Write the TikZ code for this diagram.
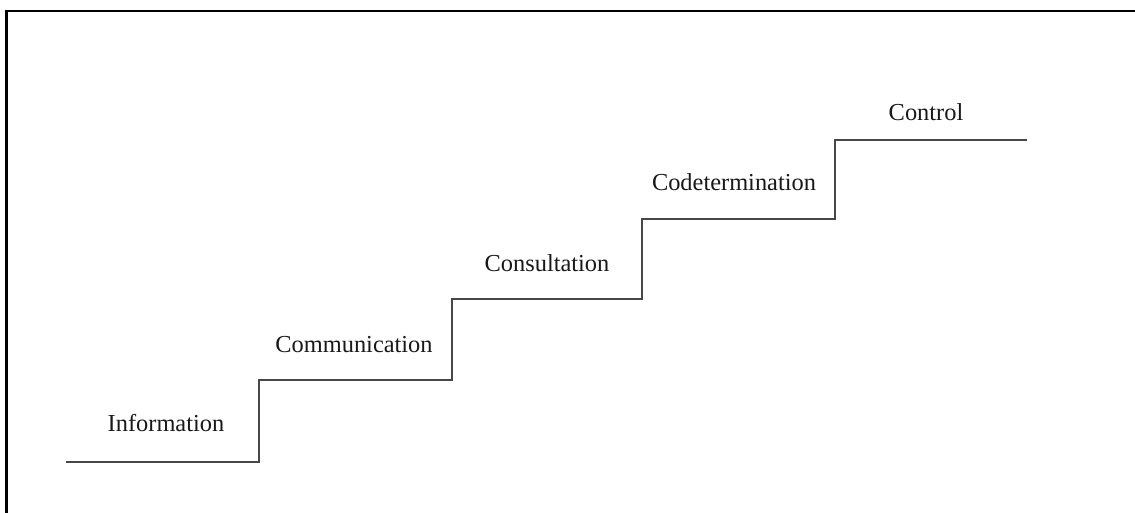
\documentclass[tikz,border=0pt]{standalone}
\usepackage{fontspec}
\setmainfont{Liberation Serif}
\usepackage{tikz}
\tikzset{frame/.style={draw=black, line width=2.5pt}}
\tikzset{stair/.style={draw=black!72, line width=2pt, line join=miter}}
\tikzset{steplabel/.style={anchor=base, inner sep=0pt, text=black!90,
   font=\fontsize{24.4}{29}\selectfont}}

\begin{document}
\begin{tikzpicture}[x=1pt, y=-1pt]

    \clip (0,0) rectangle (1135,512);
    \fill[white] (0,0) rectangle (1135,512);
    \draw[frame] (6.5,11) rectangle (1160,540);

    % corners of the stairs
    \coordinate (s0) at (66,462);
    \coordinate (s1) at (259,462);
    \coordinate (s2) at (259,380);
    \coordinate (s3) at (452,380);
    \coordinate (s4) at (452,299);
    \coordinate (s5) at (642,299);
    \coordinate (s6) at (642,219);
    \coordinate (s7) at (835,219);
    \coordinate (s8) at (835,140);
    \coordinate (s9) at (1027,140);

    \draw[stair] (s0) -- (s1) -- (s2) -- (s3) -- (s4) -- (s5) -- (s6) -- (s7) -- (s8) -- (s9);

    \node[steplabel] (info) at (166,431) {Information};
    \node[steplabel] (comm) at (354,352) {Communication};
    \node[steplabel] (cons) at (547,271) {Consultation};
    \node[steplabel] (code) at (734,190) {Codetermination};
    \node[steplabel] (ctrl) at (926,120) {Control};

\end{tikzpicture}
\end{document}
